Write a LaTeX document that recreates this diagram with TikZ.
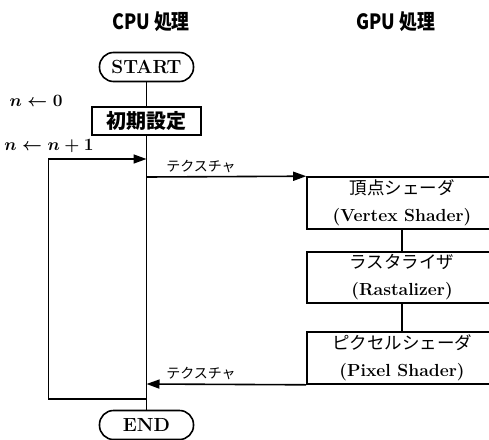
\documentclass[tikz,border=0pt]{standalone}
\usepackage{fontspec}
\newfontfamily\jpfont{Noto Sans CJK JP}
\newfontfamily\headfont{Noto Sans CJK JP}[FakeStretch=0.85]
\usepackage{tikz}
\usetikzlibrary{positioning}
\usetikzlibrary{arrows.meta}

\begin{document}
\begin{tikzpicture}[x=1pt, y=-1pt, line width=1.6pt,
    proc/.style={draw, rectangle, minimum width=190pt, minimum height=52pt, align=center, inner sep=0pt,
                 font=\fontsize{17.5}{27}\selectfont},
    term/.style={draw, rounded corners=14pt, minimum width=94pt, minimum height=29pt, inner sep=0pt,
                 font=\fontsize{19}{20}\selectfont\bfseries},
    flow/.style={-{Triangle[length=13pt,width=9pt]}},
    head/.style={font=\fontsize{21}{22}\selectfont\headfont\bfseries},
    tex/.style={font=\fontsize{14}{16}\selectfont\jpfont},
    var/.style={font=\fontsize{16}{18}\selectfont\boldmath}]
\useasboundingbox (0,0) rectangle (489,439);

\node[head] (cpuhead) at (151,22) {CPU 処理};
\node[head] (gpuhead) at (396,22) {GPU 処理};

\node[term] (start) at (146.5,67) {START};
\node[draw, minimum width=109pt, minimum height=28pt, inner sep=0pt,
      font=\fontsize{20}{20}\selectfont\jpfont\bfseries] (init) at (146.5,121) {初期設定};
\node[term] (end) at (146.5,425) {END};

\node[proc] (vtx) at (402,203) {{\jpfont 頂点シェーダ}\\{\bfseries (Vertex Shader)}};
\node[proc, minimum height=51pt] (ras) at (402,277.5) {{\jpfont ラスタライザ}\\{\bfseries (Rastalizer)}};
\node[proc] (pix) at (402,358) {{\jpfont ピクセルシェーダ}\\{\bfseries (Pixel Shader)}};

\node[var] (init0) at (36,101) {$n \leftarrow 0$};
\node[var] (initn) at (49,146) {$n \leftarrow n+1$};

\coordinate (lptop) at (146.5,159); % loop back in
\coordinate (lpbot) at (146.5,399); % loop out
\coordinate (texout) at (146.5,177);
\coordinate (texin) at (146.5,384);

\draw (start) -- (init);
\draw (init) -- (end);
\draw[flow] (lpbot) -- ++(-98,0) |- (lptop);
\draw[flow] (texout) -- (vtx.north west);
\draw (vtx) -- (ras);
\draw (ras) -- (pix);
\draw[flow] (pix.south west) -- (texin);

\node[tex, above] (texlab1) at (201,177) {テクスチャ};
\node[tex, above] (texlab2) at (201,384) {テクスチャ};
\end{tikzpicture}
\end{document}
